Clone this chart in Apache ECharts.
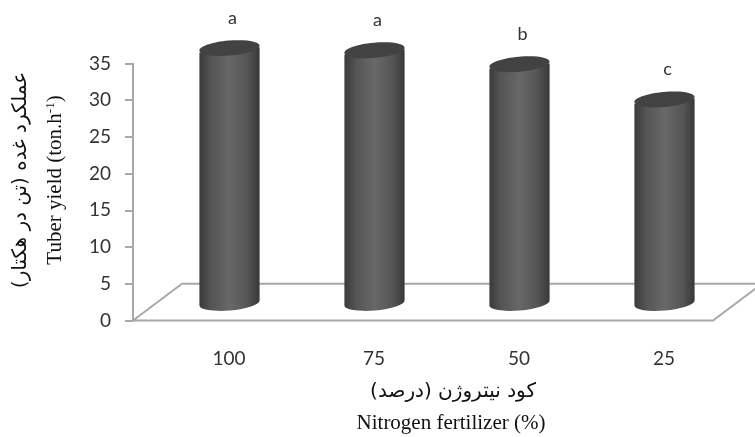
<!DOCTYPE html>
<html><head><meta charset="utf-8">
<style>html,body{margin:0;padding:0;background:#fff}#c{width:755px;height:437px}</style>
<script src="https://cdn.jsdelivr.net/npm/echarts@6/dist/echarts.min.js"></script>
</head><body><div id="c"></div>
<script>
const categories = ['100','75','50','25'];
const yieldValues = [34.6, 34.3, 32.4, 27.6];
const letters = ['a','a','b','c'];
const floorDepthValue = 5;
const titleFa = 'عملکرد غده (تن در هکتار)';
const xTitleFa = 'کود نیتروژن (درصد)';
const xTitleEn = 'Nitrogen fertilizer (%)';

const depthX = 49, unitsTop = floorDepthValue;
const chart = echarts.init(document.getElementById('c'), null, {renderer:'canvas'});
const axisGray = '#a8a8a8', textDark = '#333';

function renderFloor(params, api){
  const cs = params.coordSys;
  const y0 = api.coord([0,0])[1], y5 = api.coord([0,unitsTop])[1];
  const L = cs.x, R = cs.x + cs.width;
  return {type:'polyline', silent:true, shape:{points:[[L,y0],[L+depthX,y5],[R+depthX,y5],[R,y0],[L,y0]]},
          style:{fill:'#fff', stroke:axisGray, lineWidth:2}};
}
function renderBar(params, api){
  const i = api.value(0), v = api.value(1);
  const depthY = (api.coord([0,0])[1]-api.coord([0,unitsTop])[1])/2;
  const c = api.coord([i,v]), b = api.coord([i,0]);
  const cx = c[0]+depthX/2-0.5, topY = c[1]-depthY, botY = b[1]-depthY;
  const a = 30.2, e = 7.5, tilt = 0.085, d = a*tilt;
  const body = `M${cx-a} ${topY+d}L${cx-a} ${botY+d}A${a} ${e} -5 0 0 ${cx+a} ${botY-d}L${cx+a} ${topY-d}Z`;
  return {type:'group', children:[
    {type:'path', shape:{pathData:body, layout:'center', x:cx-a, y:topY-d, width:2*a, height:botY-topY+2*d+e}, silent:true,
     style:{fill:new echarts.graphic.LinearGradient(0,0,1,0,[
       {offset:0,color:'#3a3a3a'},{offset:0.2,color:'#555555'},{offset:0.5,color:'#686868'},{offset:0.8,color:'#555555'},{offset:1,color:'#383838'}])}},
    {type:'ellipse', silent:true, x:cx, y:topY, rotation:5*Math.PI/180, originX:0, originY:0,
     shape:{cx:0,cy:0,rx:a,ry:e}, style:{fill:'#424242'}},
    {type:'text', silent:true, style:{x:cx+3, y:topY-30, text:letters[i], align:'center', verticalAlign:'middle',
      fill:textDark, font:'18px Lato'}}
  ]};
}
chart.setOption({
  animation:false,
  grid:{left:133, right:42, top:63.5, bottom:116.5},
  xAxis:{type:'category', data:categories, axisLine:{show:false}, axisTick:{show:false},
    axisLabel:{color:textDark, fontFamily:'Lato', fontSize:19, margin:29, padding:[0,0,0,47]}},
  yAxis:{type:'value', min:0, max:35, interval:5, splitLine:{show:false},
    axisLine:{show:true, lineStyle:{color:axisGray, width:2}},
    axisTick:{show:true, length:8, lineStyle:{color:axisGray, width:2}},
    axisLabel:{color:textDark, fontFamily:'Lato', fontSize:19, margin:22, padding:[4,0,0,0]}},
  series:[
    {type:'custom', z:1, clip:false, renderItem:renderFloor, data:[[0,0]], encode:{x:0,y:1}, silent:true},
    {type:'custom', z:2, clip:false, renderItem:renderBar, encode:{x:0,y:1},
     data:yieldValues.map((v,i)=>[i,v]), silent:true}
  ],
  graphic:[
    {type:'text', x:21, y:180, rotation:Math.PI/2, silent:true,
     style:{text:titleFa, align:'center', verticalAlign:'middle', fill:'#111', font:'20px "DejaVu Sans"'}},
    {type:'text', x:55, y:180, rotation:Math.PI/2, silent:true,
     style:{text:'Tuber yield (ton.h{s|-1})', rich:{s:{fontSize:13, verticalAlign:'top', padding:[0,0,8,0], fill:'#111', fontFamily:'Liberation Serif'}},
       align:'center', verticalAlign:'middle', fill:'#111', font:'21px "Liberation Serif"'}},
    {type:'text', x:453, y:392, silent:true,
     style:{text:xTitleFa, align:'center', verticalAlign:'middle', fill:'#111', font:'20px "DejaVu Sans"'}},
    {type:'text', x:451, y:423, silent:true,
     style:{text:xTitleEn, align:'center', verticalAlign:'middle', fill:'#111', font:'21px "Liberation Serif"'}}
  ]
});
</script></body></html>
